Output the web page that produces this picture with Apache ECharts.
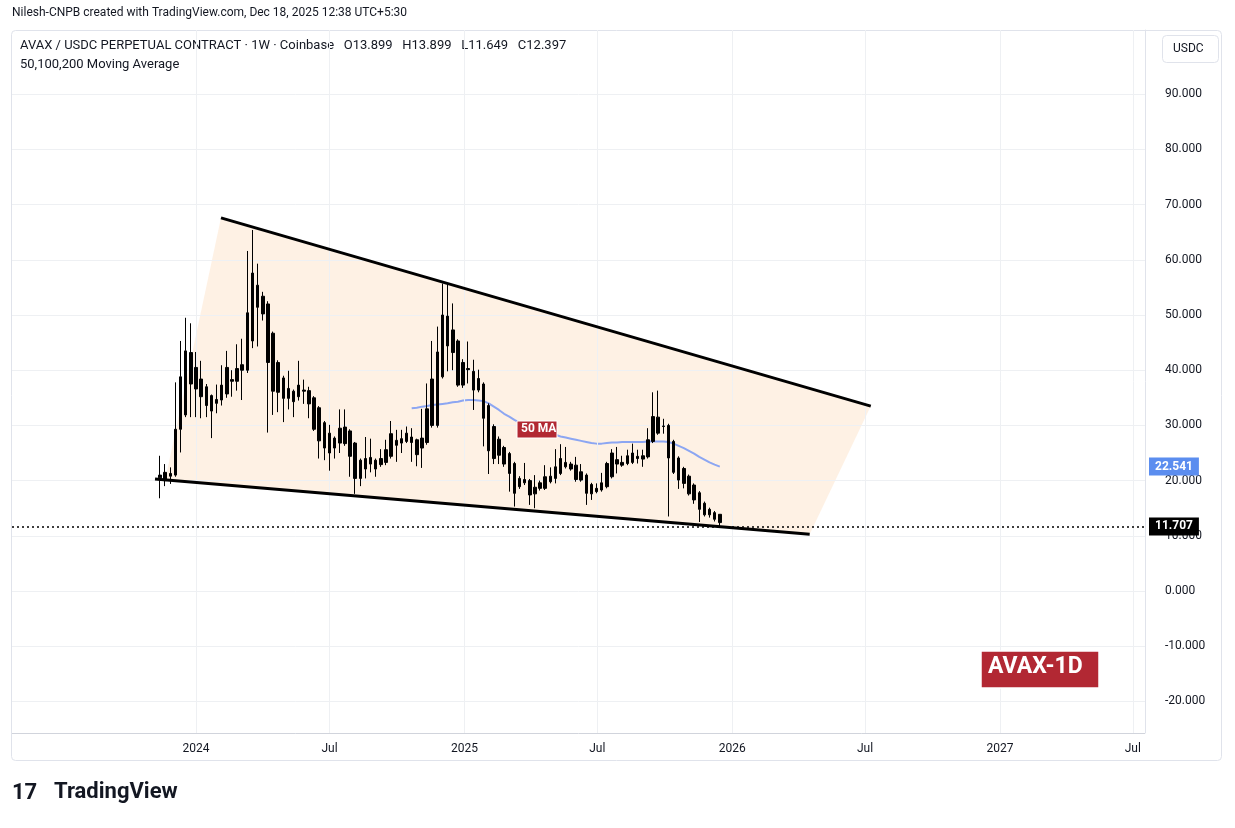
<!DOCTYPE html>
<html><head><meta charset="utf-8">
<script src="https://cdn.jsdelivr.net/npm/echarts@6/dist/echarts.min.js"></script>
<style>html,body{margin:0;padding:0;background:#fff}#c{width:1235px;height:828px}</style>
</head><body><div id="c"></div>
<script>
// week index 0 = 2023-11-13
const candles = [
[21,20.5,16.8,24.5],[20,21.5,19,23],[20.8,21.3,19.4,22.4],[21,29.3,20.7,37.8],[29.3,38.8,25.1,45.3],
[31.9,43.5,31.5,49.5],[43.2,37.5,31.5,48.5],[40.5,36.6,31.5,43.3],[38.4,35.2,31.3,41.7],[37,33.6,31.5,37.5],
[35.4,32.6,27.7,35.6],[34,34.7,32.2,37.4],[34.6,37.3,33.6,40.9],[35.7,40.5,35,43.5],[38,38.3,35.2,40],
[38,40.3,36.3,44.7],[40,41,34.6,45.7],[40,50.4,39.5,61.6],[45.3,57.6,44,65.4],[55.4,51.4,44.3,59.3],
[53.4,50.2,49,54.2],[52,41.4,28.7,52.5],[46.7,36.2,31.9,47],[41.4,36,32.4,41.8],[38.6,34.9,30.6,39],
[34.9,36.7,32.9,39.9],[36.2,34.3,31.5,36.5],[35.2,37.3,34.5,41.7],[36.2,36.4,33.9,38.3],[36.3,33.9,31.3,37],
[35,29.3,29,35.3],[33.2,27.2,24,33.5],[30.5,25.9,23.7,30.8],[28.6,25,21.8,30.1],[27.7,25.9,24,28],
[26.8,29.5,25,32.9],[29.7,26.7,26.3,32.9],[29,24.4,20.7,29.3],[26.8,20.4,17.6,27],[20.4,23.7,19,24],
[22.1,24,20.4,27.9],[24.2,23,21.5,27.6],[23.7,22.1,20.7,24],[22.9,24,22.5,25.7],[23.3,25.6,22.8,27.4],
[24.4,28.5,24,30.8],[27.3,26.4,23.4,29.2],[26.8,27.6,25,29.2],[27.1,28.6,26.8,29.8],[27.9,26.9,23.4,29.5],
[27.4,24.7,22.6,27.6],[25.9,27.7,22.3,33],[26.9,33,26.5,37.6],[30,38.4,29.6,45.3],[30,43.3,29.6,47.9],
[38.8,50,38.5,55.7],[49.8,44.4,39.8,55.7],[47.3,43.2,40,52.1],[45.3,37.3,37,45.6],[37.3,41.4,36.8,42],
[40.1,40.3,37.6,45.2],[39.8,36.4,32.8,41.9],[36.4,38.5,36,40.1],[37.5,31.3,26.2,37.8],[33.6,25.4,21.2,34],
[29.8,24,23,30.2],[24.6,27.5,23,28],[26,23,22.5,26.3],[24.9,21.3,18,25.2],[23.1,17.7,15.3,23.4],
[18.9,20.4,18.5,20.8],[20.2,19.6,19.2,23.2],[20,17.4,15.6,20.3],[17.6,18.8,15,21],[18.6,19.6,18.2,20],
[18.6,20.7,18.3,22.8],[19.8,20.8,19.5,22.4],[20.4,22.5,19.5,25.7],[21.3,24,21,26.6],[23.3,22.5,22.2,26.1],
[23,22.1,21.8,23.4],[22.8,20.2,19.8,24.3],[20.1,21.6,19.8,23],[21,17.7,15.6,21.3],[17.6,19.3,16.5,19.6],
[18,18.6,17.7,19.5],[18.3,19.6,18,21.4],[18.9,23.1,18.6,23.4],[20.7,25,20.4,25.7],[23.8,23,21.3,26.1],
[22.8,23.3,22.5,24.5],[23.1,24.5,22.8,25.6],[23.3,25,23,26.7],[24,24.4,23.1,25.6],[24.5,23.9,22.5,25.6],
[24.3,27.4,24,29.5],[27.1,31.6,26.8,36],[31.5,28.6,28.3,36.3],[29.8,29.9,28.5,31.2],[30,24.1,13.5,30.3],
[27.1,21.5,21.2,27.4],[24.1,20.1,18.5,24.4],[22.2,19.5,18.6,22.5],[20.8,17.6,17.3,21.1],[19.2,16.5,15.8,19.5],
[17.8,14.8,12.5,18.1],[15.9,13.8,13.5,16.2],[14.8,13.8,13.3,15.1],[14.2,13,12.6,14.5],[13.899,12.397,11.649,13.899]
];
const maStart = 49;
const ma50 = [33.1,33.2,33.4,33.5,33.7,33.8,33.9,34.0,34.2,34.3,34.5,34.6,34.6,34.5,34.4,34.0,33.4,32.8,32.1,31.6,
31.0,30.5,30.0,29.6,29.3,29.0,28.8,28.6,28.3,28.0,27.8,27.6,27.4,27.2,27.0,26.8,26.7,26.7,26.8,26.9,
26.9,27.0,27.0,27.0,27.0,27.0,27.1,27.1,27.1,27.1,27.0,26.7,26.3,25.9,25.4,24.9,24.3,23.8,23.3,22.9,22.541];
const upperLine = [[11.87,67.6],[138.4,33.5]];
const lowerLine = [[-0.98,20.3],[126.5,10.3]];
const wedge = [[1.0,20.14],[11.87,67.6],[138.4,33.5],[126.5,10.3]];
const xTickVals = [7,33,59.29,85.14,111.43,137.29,163.57,189.43];
const xTickLabels = ['2024','Jul','2025','Jul','2026','Jul','2027','Jul'];
const yTicks = [-20,-10,0,10,20,30,40,50,60,70,80,90];
const lastPrice = 11.707, maLast = 22.541;

const cdata = candles.map((c,i)=>[i,c[0],c[1],c[2],c[3]]);
const madata = ma50.map((v,i)=>[maStart+i,v]);
const chart = echarts.init(document.getElementById('c'));
const txt = '#131722';
const lbl = {position:'end',color:'#fff',fontSize:12,fontWeight:'bold',fontFamily:'Roboto',padding:[3,6],distance:4};
chart.setOption({
  animation:false,
  backgroundColor:'#fff',
  grid:{left:12,right:90,top:30,bottom:95},
  xAxis:{type:'value',min:-28.83,max:191.8,
    axisLine:{show:false},axisTick:{show:false},splitLine:{show:false},
    axisLabel:{customValues:xTickVals,color:txt,fontSize:12,fontFamily:'Roboto',margin:10,
      formatter:v=>{const i=xTickVals.findIndex(t=>Math.abs(t-v)<0.01);return i>=0?xTickLabels[i]:'';}}},
  yAxis:{type:'value',position:'right',min:-25.72,max:101.63,
    axisLine:{show:true,onZero:false,lineStyle:{color:'#e0e3eb'}},axisTick:{show:false},splitLine:{show:false},
    axisLabel:{customValues:yTicks,color:txt,fontSize:12,fontFamily:'Roboto',margin:20,formatter:v=>v.toFixed(3)}},
  series:[
    {type:'custom',silent:true,z:1,data:[0],
     renderItem:(p,api)=>({type:'polygon',shape:{points:wedge.map(q=>api.coord(q))},style:{fill:'rgba(252,223,196,0.45)'}})},
    {type:'line',silent:true,z:2,data:[],
     markLine:{symbol:'none',silent:true,label:{show:false},lineStyle:{color:'#eef0f3',width:1,type:'solid'},
       data:[...xTickVals.map(v=>({xAxis:v})),...yTicks.map(v=>({yAxis:v}))]}},
    {type:'line',silent:true,z:3,data:[],
     markLine:{symbol:'none',silent:true,label:{show:false},lineStyle:{color:'#d1d4dc',width:1,type:'solid'},
       data:[{yAxis:-25.72}]}},
    {type:'line',data:madata,showSymbol:false,z:4,lineStyle:{color:'#8ca6f2',width:2},silent:true},
    {type:'candlestick',data:cdata,barWidth:3,z:5,
     itemStyle:{color:'#000',color0:'#000',borderColor:'#000',borderColor0:'#000',borderWidth:1}},
    {type:'line',data:upperLine,showSymbol:false,z:6,lineStyle:{color:'#000',width:3},silent:true},
    {type:'line',data:lowerLine,showSymbol:false,z:6,lineStyle:{color:'#000',width:3},silent:true},
    {type:'line',silent:true,z:7,data:[],
     markLine:{symbol:'none',silent:true,
       data:[{yAxis:lastPrice,lineStyle:{color:'#000',width:1.5,type:[2,3]},
         label:Object.assign({show:true,formatter:lastPrice.toFixed(3),backgroundColor:'#000'},lbl)},
        {yAxis:maLast,lineStyle:{color:'rgba(255,255,255,0)',width:1,type:'solid'},
         label:Object.assign({show:true,formatter:maLast.toFixed(3),backgroundColor:'#5b8def',color:'#fff'},lbl)}]}}
  ],
  graphic:[
    {type:'rect',shape:{x:11.5,y:30.5,width:1210,height:730,r:4},style:{fill:'none',stroke:'#e0e3eb',lineWidth:1},z:0,silent:true},
    {type:'text',left:12,top:7,style:{text:'Nilesh-CNPB created with TradingView.com, Dec 18, 2025 12:38 UTC+5:30',fill:txt,font:'12px Roboto'}},
    {type:'text',left:20,top:39,style:{text:'AVAX / USDC PERPETUAL CONTRACT · 1W · Coinbase   O13.899   H13.899   L11.649   C12.397',fill:txt,font:'13px Roboto'}},
    {type:'text',left:20,top:58,style:{text:'50,100,200 Moving Average',fill:txt,font:'13px Roboto'}},
    {type:'rect',shape:{x:1162.5,y:35.5,width:56,height:27,r:4},style:{fill:'#fff',stroke:'#e0e3eb'},z:10},
    {type:'text',left:1173,top:43,z:11,style:{text:'USDC',fill:txt,font:'12px Roboto'}},
    {type:'rect',shape:{x:517,y:421,width:40,height:17},style:{fill:'#b22833',stroke:'#fff',lineWidth:1},z:20},
    {type:'text',left:521,top:423,z:21,style:{text:'50 MA',fill:'#fff',font:'bold 12px Roboto'}},
    {type:'rect',shape:{x:981,y:651,width:118,height:37},style:{fill:'#b22833',stroke:'#fff',lineWidth:1.5},z:20},
    {type:'text',left:988,top:656,z:21,style:{text:'AVAX-1D',fill:'#fff',font:'bold 23px Roboto'}},
    {type:'text',left:12,top:782,style:{text:'17',fill:txt,font:'bold 22px Roboto'}},
    {type:'text',left:54,top:781,style:{text:'TradingView',fill:txt,font:'bold 22px Roboto'}}
  ]
});
</script></body></html>
